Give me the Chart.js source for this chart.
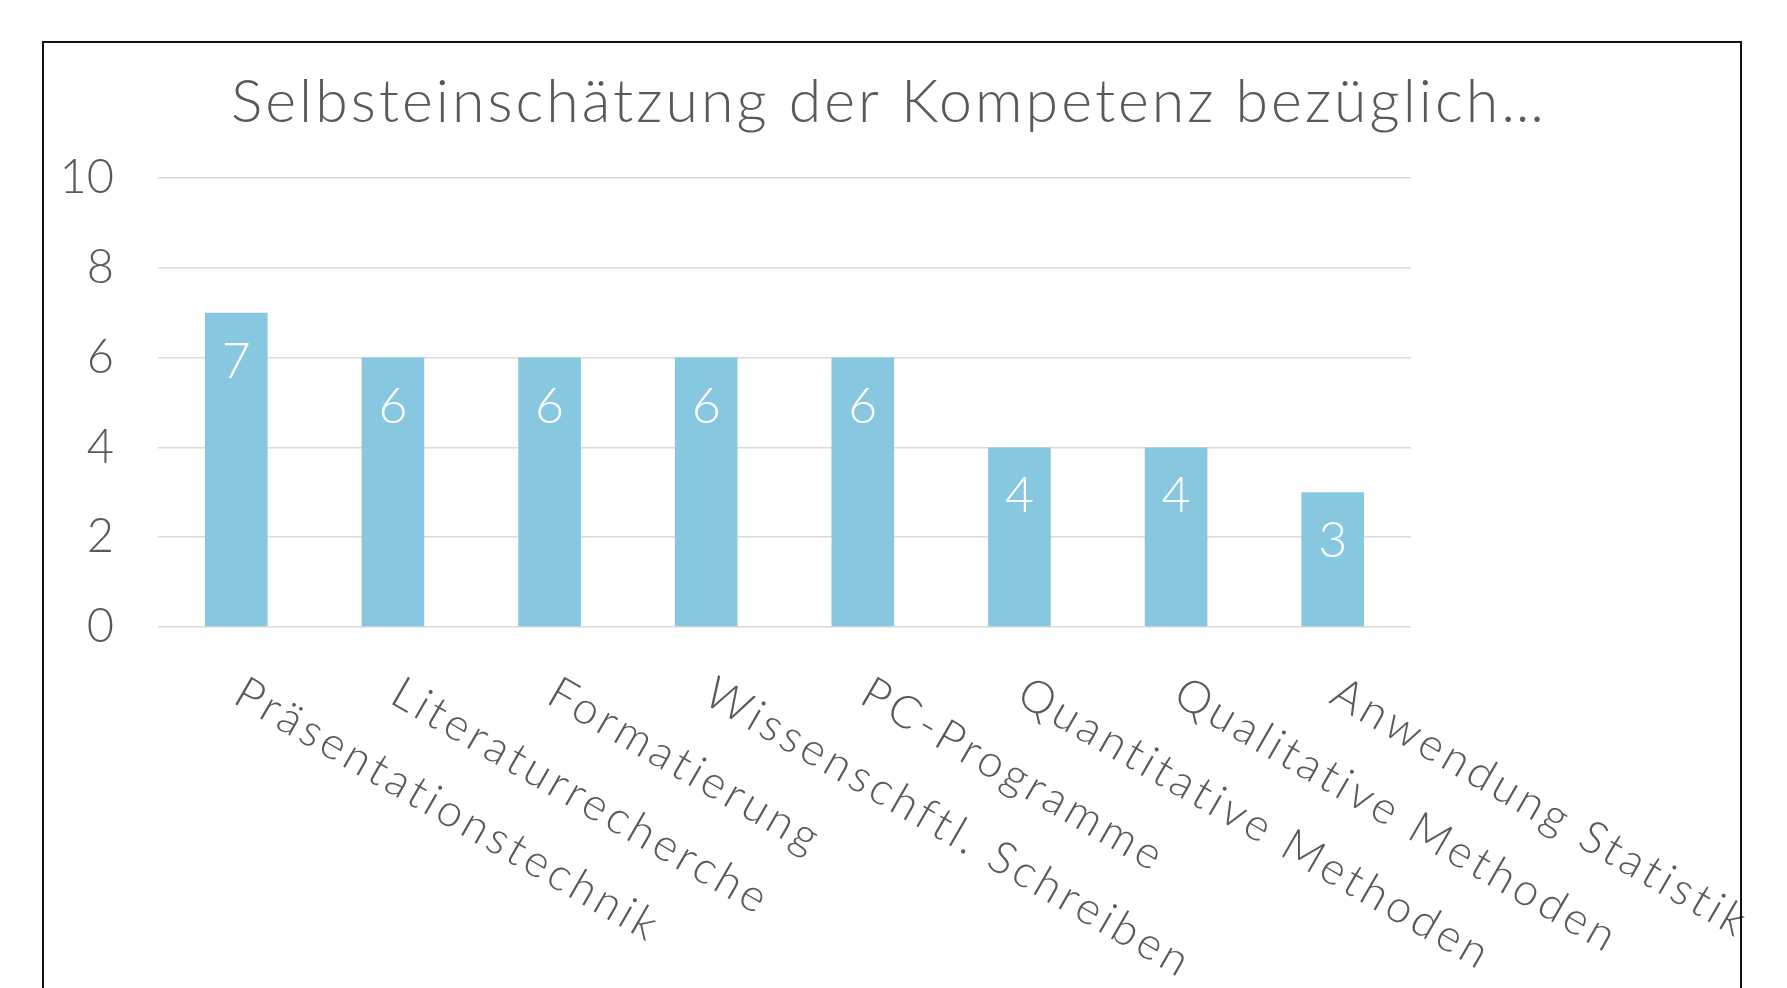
<!DOCTYPE html>
<html>
<head>
<meta charset="utf-8">
<script src="https://cdn.jsdelivr.net/npm/chart.js@4"></script>
<style>
html,body{margin:0;padding:0;background:#fff;overflow:hidden;}
#wrap{position:absolute;left:0;top:0;width:1787px;height:988px;}
#frame{position:absolute;left:42px;top:41px;width:1700px;height:1000px;border:2px solid #111;box-sizing:border-box;pointer-events:none;}
</style>
</head>
<body>
<div id="wrap"><canvas id="c" width="1787" height="988"></canvas></div>
<div id="frame"></div>
<script>
const chartTitle = 'Selbsteinschätzung der Kompetenz bezüglich…';
const categories = ['Präsentationstechnik','Literaturrecherche','Formatierung','Wissenschftl. Schreiben','PC-Programme','Quantitative Methoden','Qualitative Methoden','Anwendung Statistik'];
const values = [7,6,6,6,6,4,4,3];
const yMin = 0, yMax = 10, yStep = 2;

const FONT = 'Lato, "Open Sans", sans-serif';
const WEIGHT = '300';
const GRAY = '#595959';

function fitSpacing(ctx, text, target){
  ctx.letterSpacing = '0px';
  const w = ctx.measureText(text).width;
  return Math.max(0, (target - w) / text.length);
}

const decor = {
  id: 'decor',
  afterDatasetsDraw(chart){
    const ctx = chart.ctx;
    const meta = chart.getDatasetMeta(0);
    ctx.save();
    ctx.fillStyle = '#ffffff';
    ctx.font = WEIGHT + ' 50px ' + FONT;
    ctx.textAlign = 'center';
    ctx.textBaseline = 'alphabetic';
    meta.data.forEach((bar, i) => {
      ctx.fillText(String(values[i]), bar.x, bar.y + 65);
    });
    ctx.restore();
  },
  afterDraw(chart){
    const ctx = chart.ctx;
    const xs = chart.scales.x;
    const bottom = chart.chartArea.bottom;
    ctx.save();
    ctx.fillStyle = GRAY;
    ctx.font = WEIGHT + ' 45px ' + FONT;
    const ls = fitSpacing(ctx, categories[0], 484);
    categories.forEach((c, i) => {
      const x = xs.getPixelForTick(i);
      ctx.save();
      ctx.translate(x - 5, bottom + 75);
      ctx.rotate(Math.PI / 6);
      ctx.letterSpacing = ls + 'px';
      ctx.textAlign = 'left';
      ctx.textBaseline = 'alphabetic';
      ctx.fillText(c, 0, 0);
      ctx.restore();
    });
    ctx.restore();
    ctx.save();
    ctx.fillStyle = GRAY;
    ctx.font = WEIGHT + ' 59px ' + FONT;
    const tls = fitSpacing(ctx, chartTitle, 1316);
    ctx.letterSpacing = tls + 'px';
    ctx.textAlign = 'center';
    ctx.textBaseline = 'alphabetic';
    ctx.fillText(chartTitle, 889, 122);
    ctx.restore();
  }
};

new Chart(document.getElementById('c'), {
  type: 'bar',
  data: {
    labels: categories,
    datasets: [{
      data: values,
      backgroundColor: '#88C7E0',
      borderWidth: 0,
      barPercentage: 0.4,
      categoryPercentage: 1.0
    }]
  },
  options: {
    responsive: false,
    animation: false,
    devicePixelRatio: 1,
    layout: { padding: { left: 0, right: 376, top: 178, bottom: 361 } },
    plugins: { legend: { display: false }, title: { display: false }, tooltip: { enabled: false } },
    scales: {
      x: { display: false },
      y: {
        min: yMin, max: yMax,
        ticks: { stepSize: yStep, padding: 44, color: GRAY, font: { family: FONT, size: 47, weight: WEIGHT } },
        grid: { color: '#D9D9D9', lineWidth: 1.5, drawTicks: false },
        border: { display: false },
        afterFit(scale){ scale.width = 158; }
      }
    }
  },
  plugins: [decor]
});
</script>
</body>
</html>
